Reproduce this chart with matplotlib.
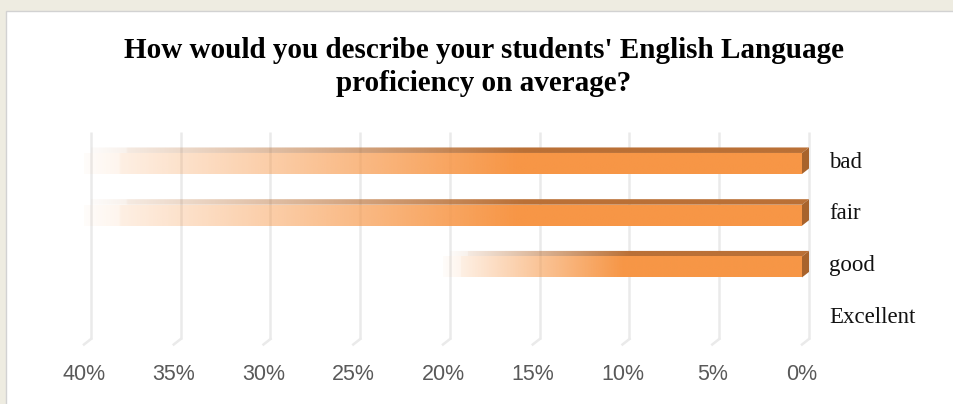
import numpy as np
import matplotlib
matplotlib.use("Agg")
import matplotlib.pyplot as plt
from matplotlib.patches import Rectangle, Polygon
from matplotlib.transforms import ScaledTranslation, blended_transform_factory

# ---- data -------------------------------------------------------------
categories = ["bad", "fair", "good", "Excellent"]
shares = [40, 40, 20, 0]                 # percent of answers
ticks = [40, 35, 30, 25, 20, 15, 10, 5, 0]
tick_labels = [f"{t}%" for t in ticks]
title = "How would you describe your students' English Language\nproficiency on average?"

# ---- figure geometry --------------------------------------------------
W, H, DPI = 954, 404, 100
DX, DY = 7.0, 5.5                        # depth of the 3-D bars, in pixels
BAR_H = 0.406

ORANGE = np.array([247, 150, 70]) / 255
TOP = np.array([186, 112, 54]) / 255
SIDE = np.array([168, 99, 44]) / 255

fig = plt.figure(figsize=(W / DPI, H / DPI), dpi=DPI, facecolor="#EEECE1")
fig.patches.append(Rectangle((6 / W, -0.05), 1.2, (H - 11) / H + 0.05,
                             transform=fig.transFigure, facecolor="white",
                             edgecolor="#D2D2D2", linewidth=1.0, zorder=-5))

ax = fig.add_axes([84 / W, (H - 344.5) / H, 718 / W, (344.5 - 137.6) / H])
ax.set_zorder(2)
ax.set_xlim(40, 0)
ax.set_ylim(3.5, -0.5)
ax.set_axis_off()

# depth offset expressed in data units
px_x = (ax.transData.transform((0, 0))[0] - ax.transData.transform((1, 0))[0])
px_y = (ax.transData.transform((0, 0))[1] - ax.transData.transform((0, 1))[1])
ddx = -DX / px_x
ddy = -DY / px_y


def fade(n, length_frac_full=0.6):
    """alpha profile from the left (faded) end to the right (solid) end"""
    s = np.linspace(0, 1, n)
    return np.interp(s, [0, 0.05, 0.0501, length_frac_full, 1],
                     [0.03, 0.10, 0.15, 1.0, 1.0])


# gridlines on the back wall, with a slanted foot on the floor
for t in ticks:
    ax.plot([t + ddx, t + ddx], [3.5 + ddy, -0.5 + ddy], color="#EAEAEA",
            lw=1.8, zorder=1, clip_on=False, solid_capstyle="butt")
    ax.plot([t + ddx, t], [3.5 + ddy, 3.5], color="#EAEAEA", lw=1.8,
            zorder=1, clip_on=False)

# bars
for i, v in enumerate(shares):
    if v <= 0:
        continue
    full = 0.6 if v >= 30 else 0.5
    y0, y1 = i - BAR_H / 2, i + BAR_H / 2
    front = ax.barh(i, v, height=BAR_H, left=0, color="none", zorder=3)[0]

    n = 400
    a = fade(n, full)[::-1]              # column 0 sits at x = 0 (right end)
    img = np.zeros((1, n, 4))
    img[..., :3] = ORANGE
    img[..., 3] = a
    im = ax.imshow(img, extent=(0, v, y1, y0), aspect="auto",
                   interpolation="bilinear", zorder=3)
    im.set_clip_box(fig.bbox)
    im.set_clip_path(front)

    # top face
    top_pts = [(v, y0), (0, y0), (ddx, y0 + ddy), (v + ddx, y0 + ddy)]
    top_poly = Polygon(top_pts, closed=True, facecolor="none",
                       edgecolor="none", zorder=3, clip_on=False)
    ax.add_patch(top_poly)
    img2 = np.zeros((1, n, 4))
    img2[..., :3] = TOP
    img2[..., 3] = a
    im2 = ax.imshow(img2, extent=(ddx, v + ddx, y0, y0 + ddy), aspect="auto",
                    interpolation="bilinear", zorder=3)
    im2.set_clip_box(fig.bbox)
    im2.set_clip_path(top_poly)

    # right-hand end face
    ax.add_patch(Polygon([(0, y0), (ddx, y0 + ddy), (ddx, y1 + ddy), (0, y1)],
                         closed=True, facecolor=SIDE, edgecolor="none",
                         zorder=4, clip_on=False))

ax.set_xlim(40, 0)
ax.set_ylim(3.5, -0.5)

# category labels
lab_tr = blended_transform_factory(ax.transAxes, ax.transData)
for i, c in enumerate(categories):
    ax.text(1 + 27 / 718, i + ddy / 4, c, transform=lab_tr, ha="left",
            va="center", fontsize=16.5, family=["Liberation Serif", "DejaVu Serif"],
            color="#111111", clip_on=False)

# percentage axis labels
off = ScaledTranslation(0, -29.5 / DPI, fig.dpi_scale_trans)
for t, lab in zip(ticks, tick_labels):
    ax.text(t, 3.5, lab, transform=ax.transData + off, ha="center",
            va="center", fontsize=15.5, color="#595959",
            family=["Liberation Sans Narrow", "Liberation Sans", "DejaVu Sans"],
            clip_on=False)

fig.text(484 / W, 1 - 67 / H, title, ha="center", va="center",
         multialignment="center", fontsize=21, fontweight="bold",
         family=["Liberation Serif", "DejaVu Serif"], linespacing=1.27,
         color="black")

fig.savefig("out.png", dpi=DPI, facecolor=fig.get_facecolor())
